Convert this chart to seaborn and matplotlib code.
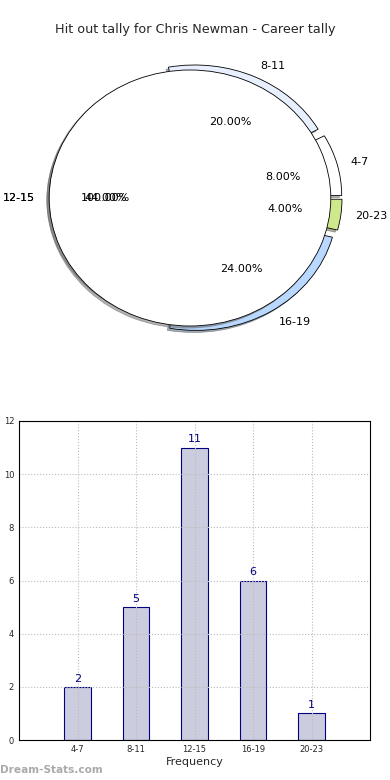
import matplotlib
matplotlib.use("Agg")
import matplotlib.pyplot as plt
import seaborn as sns
import pandas as pd

categories = ["4-7", "8-11", "12-15", "16-19", "20-23"]
counts = [2, 5, 11, 6, 1]
pie_colors = ["#ffffff", "#e8f0ff", "#ffffff", "#b8d8ff", "#d0e88c"]
explode = [0.08, 0.08, 0.0, 0.08, 0.08]
overlay_label = ["12-15"]
title = "Hit out tally for Chris Newman - Career tally"
xlabel = "Frequency"
ylabel = "Stat Hit Outs"
watermark = "Dream-Stats.com"

sns.set_style("white")
plt.rcParams['font.family'] = ['DejaVu Sans']

fig = plt.figure(figsize=(3.9, 7.8), dpi=100)

pie_rect = [14/390, 1-358/780, 352/390, 320/780]
shadow_opts = dict(ox=-0.012, oy=-0.012, shade=0.6)

# ---- pie (wedges) ----
axp = fig.add_axes(pie_rect)
_, texts, autotexts = axp.pie(counts, labels=categories, colors=pie_colors,
                              explode=explode, shadow=shadow_opts, autopct="%.2f%%",
                              wedgeprops=dict(edgecolor="black", linewidth=0.6),
                              textprops=dict(fontsize=8, color="black"))
axp.set_aspect('auto')
axp.set_xlim(-1.25, 1.25)
axp.set_ylim(-1.29, 1.29)
axp.axis('off')

# ---- overlaid full wedge ----
axo = fig.add_axes(pie_rect)
axo.pie([sum(counts)], labels=overlay_label, colors=["white"], shadow=shadow_opts,
        autopct="%.2f%%", wedgeprops=dict(edgecolor="black", linewidth=0.6),
        textprops=dict(fontsize=8, color="black"))
axo.set_aspect('auto')
axo.set_xlim(-1.25, 1.25)
axo.set_ylim(-1.25, 1.25)
axo.axis('off')

# bring the main pie's labels above the overlay
for t in list(texts) + list(autotexts):
    x, y = t.get_position()
    fig.text(x, y, t.get_text(), transform=axp.transData, ha=t.get_ha(),
             va=t.get_va(), fontsize=8, color="black")
    t.set_visible(False)

fig.text(0.5, 1-30/780, title, ha='center', va='center', fontsize=9.2)

# ---- bars ----
df = pd.DataFrame({"cat": categories, "val": counts})
axb = fig.add_axes([19/390, 40/780, 351/390, 319/780])
sns.barplot(data=df, x="cat", y="val", ax=axb, color="#ccccdf", saturation=1,
            width=0.45, edgecolor="navy", linewidth=0.8)
for i, v in enumerate(counts):
    axb.text(i, v + 0.12, str(v), ha='center', va='bottom', color='navy', fontsize=8)
axb.set_xlim(-1, 5)
axb.set_ylim(0, 12)
axb.set_yticks(range(0, 13, 2))
axb.grid(True, linestyle=':', color='#bbbbbb', linewidth=0.8)
axb.set_axisbelow(False)
for s in axb.spines.values():
    s.set_visible(True)
    s.set_color('black')
    s.set_linewidth(0.8)
    s.set_zorder(5)
axb.tick_params(axis='both', labelsize=6, direction='in', length=3, color='#999999')
axb.set_xlabel(xlabel, fontsize=8, labelpad=2)
axb.set_ylabel(ylabel, fontsize=8)
axb.yaxis.set_label_coords(-0.05, 0.5)

fig.text(0.0, 1-770/780, watermark, ha='left', va='center', fontsize=7.6,
         color='#aaaaaa', fontweight='bold')

fig.savefig("out.png", dpi=100)
